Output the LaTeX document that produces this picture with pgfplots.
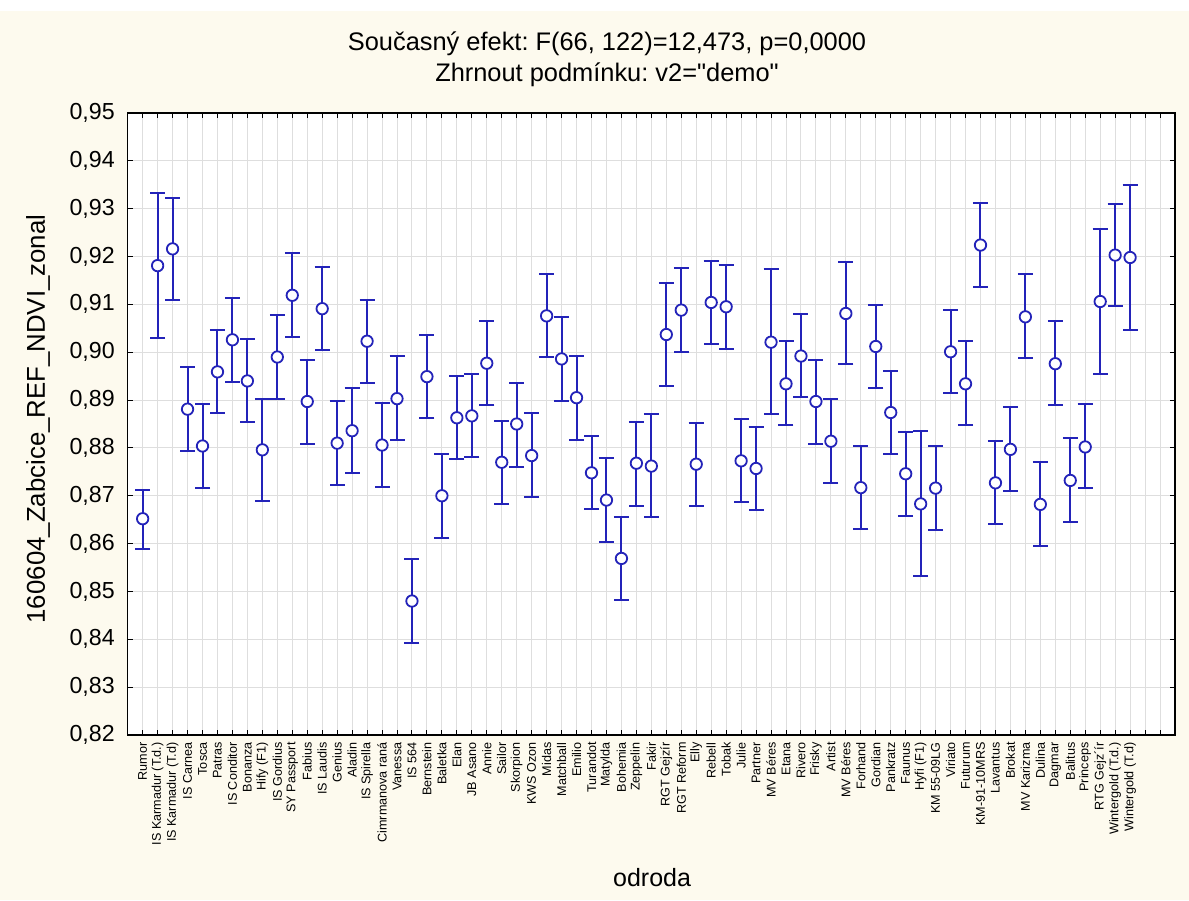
\documentclass[border=0pt]{standalone}
\usepackage{fontspec}
\setmainfont{Liberation Sans}[Ligatures=TeXOff]
\usepackage{pgfplots}
\usepackage{pgfplotstable}
\pgfplotsset{compat=1.18}
\frenchspacing

\definecolor{panel}{RGB}{253,250,238}
\definecolor{markblue}{RGB}{35,35,185}
\definecolor{gridgray}{RGB}{222,222,222}

% mean and 95% confidence limits per variety
\pgfplotstableread{
k m lo hi
0 0.8652 0.8589 0.8713
1 0.9181 0.9029 0.9332
2 0.9216 0.9109 0.9322
3 0.8881 0.8794 0.8969
4 0.8804 0.8716 0.8891
5 0.8959 0.8872 0.9047
6 0.9026 0.8938 0.9113
7 0.8940 0.8854 0.9028
8 0.8796 0.8690 0.8903
9 0.8990 0.8903 0.9078
10 0.9119 0.9032 0.9207
11 0.8897 0.8809 0.8984
12 0.9091 0.9004 0.9179
13 0.8810 0.8723 0.8898
14 0.8836 0.8748 0.8925
15 0.9023 0.8935 0.9109
16 0.8806 0.8719 0.8894
17 0.8903 0.8817 0.8992
18 0.8480 0.8392 0.8567
19 0.8949 0.8862 0.9035
20 0.8700 0.8612 0.8787
21 0.8863 0.8776 0.8950
22 0.8867 0.8780 0.8955
23 0.8977 0.8890 0.9065
24 0.8770 0.8683 0.8857
25 0.8850 0.8761 0.8935
26 0.8784 0.8698 0.8872
27 0.9076 0.8989 0.9163
28 0.8986 0.8898 0.9073
29 0.8905 0.8817 0.8992
30 0.8748 0.8673 0.8825
31 0.8691 0.8603 0.8778
32 0.8569 0.8482 0.8656
33 0.8768 0.8679 0.8854
34 0.8762 0.8656 0.8870
35 0.9037 0.8930 0.9145
36 0.9088 0.9001 0.9175
37 0.8766 0.8679 0.8853
38 0.9104 0.9017 0.9191
39 0.9095 0.9007 0.9182
40 0.8773 0.8686 0.8860
41 0.8757 0.8671 0.8844
42 0.9021 0.8870 0.9173
43 0.8934 0.8848 0.9023
44 0.8992 0.8906 0.9080
45 0.8897 0.8809 0.8984
46 0.8814 0.8727 0.8902
47 0.9081 0.8975 0.9189
48 0.8717 0.8630 0.8804
49 0.9012 0.8925 0.9099
50 0.8874 0.8787 0.8961
51 0.8746 0.8658 0.8833
52 0.8683 0.8533 0.8835
53 0.8716 0.8629 0.8804
54 0.9001 0.8914 0.9089
55 0.8934 0.8848 0.9023
56 0.9224 0.9136 0.9311
57 0.8727 0.8640 0.8815
58 0.8797 0.8710 0.8885
59 0.9074 0.8988 0.9163
60 0.8682 0.8596 0.8771
61 0.8976 0.8890 0.9065
62 0.8732 0.8645 0.8820
63 0.8802 0.8716 0.8891
64 0.9106 0.8955 0.9258
65 0.9203 0.9096 0.9310
66 0.9198 0.9047 0.9350
}\ndvi

\begin{document}
\begin{tikzpicture}
% page background
\fill[panel] (-63.85pt,-82.5pt) rectangle (530.65pt,367.5pt);
\fill[white] (-63.85pt,362pt) rectangle (530.65pt,367.5pt);
\begin{axis}[
  at={(0pt,0pt)}, anchor=south west,
  scale only axis, width=523.65pt, height=311pt,
  xmin=-1, xmax=69, ymin=0.82, ymax=0.95,
  axis background/.style={fill=white},
  xtick={0,...,68},
  xticklabels={Rumor,IS Karmadur (T.d.),IS Karmadur (T.d),IS Carnea,Tosca,Patras,IS Conditor,Bonanza,Hify (F1),IS Gordius,SY Passport,Fabius,IS Laudis,Genius,Aladin,IS Spirella,Cimrmanova raná,Vanessa,IS 564,Bernstein,Baletka,Elan,JB Asano,Annie,Sailor,Skorpion,KWS Ozon,Midas,Matchball,Emilio,Turandot,Matylda,Bohemia,Zeppelin,Fakir,RGT Gejzír,RGT Reform,Elly,Rebell,Tobak,Julie,Partner,MV Béres,Etana,Rivero,Frisky,Artist,MV Béres,Forhand,Gordian,Pankratz,Faunus,Hyfi (F1),KM 55-09LG,Viriato,Futurum,KM-91-10MRS,Lavantus,Brokat,MV Karizma,Dulina,Dagmar,Balitus,Princeps,RTG Gejz´ír,Wintergold (T.d.),Wintergold (T.d),{},{}},
  ytick={0.82,0.83,0.84,0.85,0.86,0.87,0.88,0.89,0.90,0.91,0.92,0.93,0.94,0.95},
  /pgf/number format/use comma,
  /pgf/number format/fixed,
  /pgf/number format/fixed zerofill,
  /pgf/number format/precision=2,
  /pgf/number format/assume math mode=true,
  grid=major,
  major grid style={gridgray, line width=0.5pt},
  tick align=inside, tick pos=both,
  major tick length=2.5pt,
  tick style={black, line width=0.5pt},
  axis line style={black, line width=0.75pt},
  yticklabel style={font=\fontsize{11.6pt}{13pt}\selectfont, inner sep=0pt},
  yticklabel shift=6.3pt,
  xticklabel style={font=\fontsize{6.3pt}{7.5pt}\selectfont, rotate=90, anchor=east, inner sep=0pt},
  xticklabel shift=3.5pt,
]
\addplot[only marks, mark=*, markblue,
  mark options={draw=markblue, fill=white, line width=0.9pt, mark size=2.85pt},
  error bars/.cd, y dir=both, y explicit,
  error mark=-,
  error bar style={markblue, line width=1pt},
  error mark options={rotate=90, markblue, line width=1pt, mark size=3.75pt}]
  table[x=k, y=m,
        y error plus expr=\thisrow{hi}-\thisrow{m},
        y error minus expr=\thisrow{m}-\thisrow{lo}] {\ndvi};
\end{axis}
\node[font=\fontsize{12.7pt}{15pt}\selectfont] at (239.65pt,345.5pt) {Současný efekt: F(66, 122)=12,473, p=0,0000};
\node[font=\fontsize{12.7pt}{15pt}\selectfont] at (239.65pt,330pt) {Zhrnout podmínku: v2="demo"};
\node[rotate=90, font=\fontsize{12.9pt}{15pt}\selectfont] at (-44.85pt,158pt) {160604\_Zabcice\_REF\_NDVI\_zonal};
\node[font=\fontsize{12.5pt}{15pt}\selectfont] at (262.2pt,-71.5pt) {odroda};
\pgfresetboundingbox
\path[use as bounding box] (-63.85pt,-82.5pt) rectangle (530.65pt,367.5pt);
\end{tikzpicture}
\end{document}
